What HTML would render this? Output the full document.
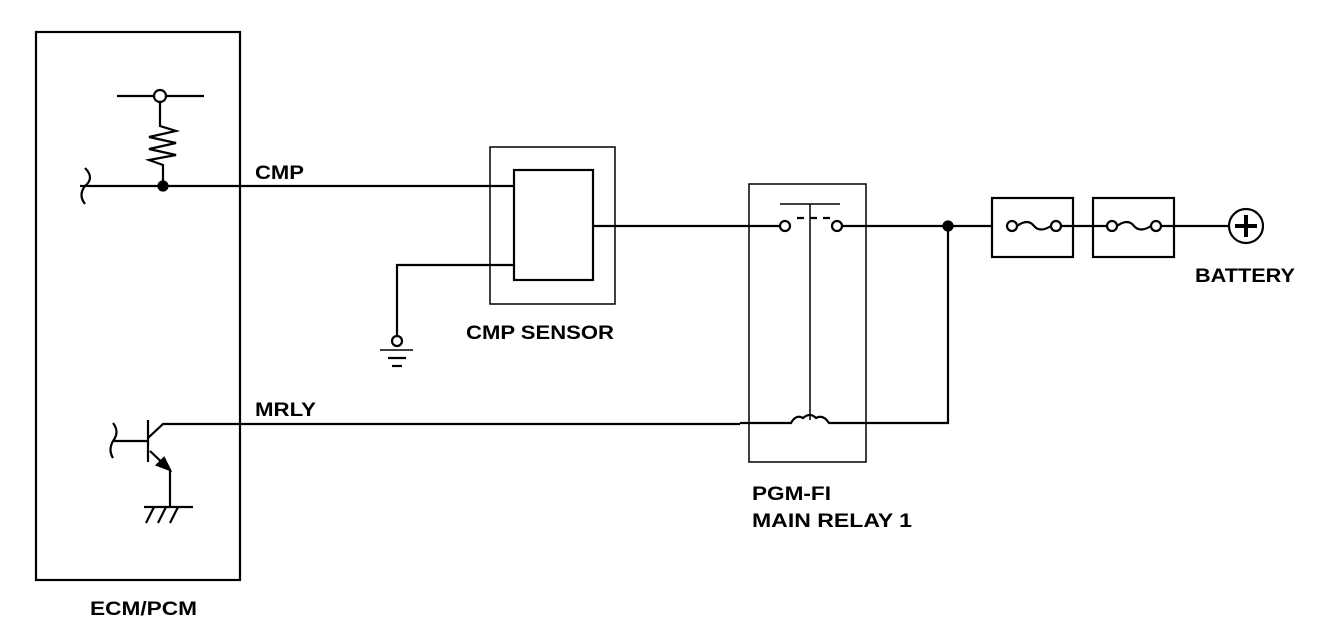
<!DOCTYPE html>
<html><head><style>body{margin:0;background:#fff}svg{display:block}text{font-family:"Liberation Sans",Arial,sans-serif;font-weight:bold;font-size:19px;fill:#000}</style></head><body>
<svg width="1328" height="642" viewBox="0 0 1328 642" xmlns="http://www.w3.org/2000/svg" fill="none" stroke="#000" stroke-width="2.2">
<rect x="36" y="32" width="204" height="548"/>
<text x="90" y="615" stroke="none" textLength="107" lengthAdjust="spacingAndGlyphs">ECM/PCM</text>
<line x1="117" y1="96" x2="204" y2="96"/>
<circle cx="160" cy="96" r="6" fill="#fff"/>
<polyline points="160,102 160,126 176,131 149,137 176,143 149,149 176,155 149,160 163,165 163,186"/>
<path d="M85,168 Q95,178 85,186 Q78,195 85,204"/>
<line x1="80" y1="186" x2="514" y2="186"/>
<circle cx="163" cy="186" r="4.5" fill="#000"/>
<text x="255" y="179" stroke="none" textLength="49" lengthAdjust="spacingAndGlyphs">CMP</text>
<rect x="490" y="147" width="125" height="157" stroke-width="1.5"/>
<rect x="514" y="170" width="79" height="110"/>
<polyline points="514,265 397,265 397,336"/>
<circle cx="397" cy="341" r="5"/>
<line x1="380" y1="350" x2="413" y2="350" stroke-width="1.5"/>
<line x1="388" y1="358" x2="406" y2="358"/>
<line x1="392" y1="366" x2="402" y2="366"/>
<text x="466" y="339" stroke="none" textLength="148" lengthAdjust="spacingAndGlyphs">CMP SENSOR</text>
<line x1="593" y1="226" x2="780" y2="226"/>
<rect x="749" y="184" width="117" height="278" stroke-width="1.5"/>
<line x1="780" y1="204" x2="840" y2="204" stroke-width="1.5"/>
<line x1="810" y1="204" x2="810" y2="420" stroke-width="1.5"/>
<line x1="797" y1="218" x2="830" y2="218" stroke-dasharray="7,6"/>
<circle cx="785" cy="226" r="5"/>
<circle cx="837" cy="226" r="5"/>
<line x1="842" y1="226" x2="992" y2="226"/>
<circle cx="948" cy="226" r="4.5" fill="#000"/>
<path d="M740,423 L791,423 Q796,414 803,418 Q810,412 816,418 Q823,414 829,423 L948,423 L948,226"/>
<text x="752" y="500" stroke="none" textLength="79" lengthAdjust="spacingAndGlyphs">PGM-FI</text>
<text x="752" y="527" stroke="none" textLength="160" lengthAdjust="spacingAndGlyphs">MAIN  RELAY 1</text>
<rect x="992" y="198" width="81" height="59"/>
<rect x="1093" y="198" width="81" height="59"/>
<circle cx="1012" cy="226" r="5"/><circle cx="1056" cy="226" r="5"/>
<path d="M1017,226 Q1028,218 1034,226 Q1040,233 1051,226"/>
<line x1="1061" y1="226" x2="1107" y2="226"/>
<circle cx="1112" cy="226" r="5"/><circle cx="1156" cy="226" r="5"/>
<path d="M1117,226 Q1128,218 1134,226 Q1140,233 1151,226"/>
<line x1="1161" y1="226" x2="1229" y2="226"/>
<circle cx="1246" cy="226" r="17"/>
<line x1="1235" y1="226" x2="1257" y2="226" stroke-width="4"/>
<line x1="1246" y1="215" x2="1246" y2="237" stroke-width="4"/>
<text x="1195" y="282" stroke="none" textLength="100" lengthAdjust="spacingAndGlyphs">BATTERY</text>
<path d="M113,423 Q120,432 113,441 Q108,450 113,458"/>
<line x1="113" y1="441" x2="148" y2="441"/>
<line x1="148" y1="420" x2="148" y2="462"/>
<polyline points="148,438 163,424 740,424"/>
<polyline points="150,451 170,470 170,507"/>
<polygon points="170,470 157,465 164,458" fill="#000"/>
<line x1="144" y1="507" x2="193" y2="507"/>
<line x1="154" y1="507" x2="146" y2="523"/><line x1="166" y1="507" x2="158" y2="523"/><line x1="178" y1="507" x2="170" y2="523"/>
<text x="255" y="416" stroke="none" textLength="61" lengthAdjust="spacingAndGlyphs">MRLY</text>
</svg>
</body></html>
